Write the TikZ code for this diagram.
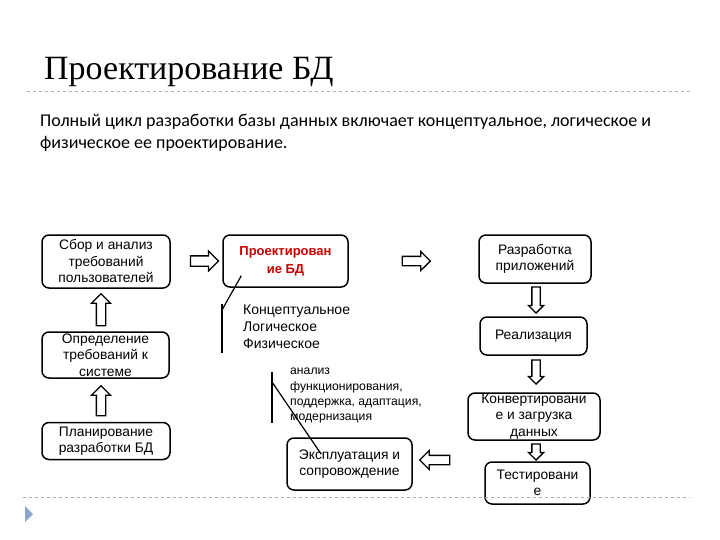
\documentclass[tikz,border=0pt]{standalone}
\usepackage{fontspec}
\setmainfont{Liberation Sans}
\newfontfamily\titlefont{Liberation Serif}
\newfontfamily\bodyfont{Carlito}
\usepackage{tikz}
\usetikzlibrary{shapes.arrows, calc}
\usepackage{xcolor}
\definecolor{darkred}{RGB}{200,0,0}
\definecolor{rulegray}{RGB}{175,175,175}
\definecolor{bullet}{RGB}{140,165,200}

\tikzset{
  stagebox/.style={draw, line width=1.5pt, rounded corners=7pt, inner sep=0pt,
    align=center, font=\fontsize{13.8}{16.5}\selectfont},
  hollowarr/.style={single arrow, draw, line width=1.3pt, inner sep=4pt,
    single arrow head extend=5pt, minimum height=#1},
  thinarr/.style={hollowarr=#1, shape border rotate=270, inner sep=3.5pt,
    single arrow head extend=3.5pt},
}

\begin{document}
\begin{tikzpicture}[x=1pt,y=-1pt]
  \useasboundingbox (0,0) rectangle (720,540);
  % Title and text
  \node[anchor=west,inner sep=0,font=\titlefont\fontsize{34}{38}\selectfont] (title) at (44,72){Проектирование БД};
  \draw[rulegray,dashed,line width=0.7pt](27,91)--(690,91);
  \node[anchor=north west,inner sep=0,align=left,font=\bodyfont\fontsize{18}{22}\selectfont] (intro) at (40,114)
    {Полный цикл разработки базы данных включает концептуальное, логическое и\\физическое ее проектирование.};
  % Left column
  \node[stagebox,minimum width=128,minimum height=53] (collect) at (106,261.5){Сбор и анализ\\требований\\пользователей};
  \node[stagebox,minimum width=127,minimum height=46] (define) at (105.5,355){Определение\\требований к\\системе};
  \node[stagebox,minimum width=128,minimum height=37] (plan) at (106,441){Планирование\\разработки БД};
  \node[hollowarr=32,shape border rotate=90] (up1) at (101,312){};
  \node[hollowarr=30,shape border rotate=90] (up2) at (101,403){};
  % Middle
  \node[stagebox,minimum width=125,minimum height=52,text=darkred,font=\bfseries\fontsize{13}{18}\selectfont] (design) at (285.5,261){Проектирован\\ие БД};
  \node[hollowarr=28,inner sep=4.5pt] (right1) at (202,261){};
  \node[hollowarr=28] (right2) at (414,261){};
  \coordinate (br1) at (222,310);
  \draw[line width=1.2pt] ($(design.south west)+(19,-12)$)--(br1);
  \draw[line width=1.2pt] (222,304)--(222,353);
  \node[anchor=north west,inner sep=0,align=left,font=\fontsize{14}{17}\selectfont] (levels) at (243,305)
    {Концептуальное\\Логическое\\Физическое};
  \node[stagebox,minimum width=125,minimum height=52] (operate) at (349.5,464){Эксплуатация и\\сопровождение};
  \coordinate (br2) at (272,382);
  \draw[line width=1.2pt] (272,372)--(272,423);
  \draw[line width=1.2pt] (br2)--($(operate.north west)+(35,17)$);
  \node[anchor=north west,inner sep=0,align=left,font=\fontsize{12.2}{15.3}\selectfont] (tasks) at (290,368)
    {анализ\\функционирования,\\поддержка, адаптация,\\модернизация};
  % Right column
  \node[stagebox,minimum width=112,minimum height=48] (apps) at (535,259){Разработка\\приложений};
  \node[stagebox,minimum width=107,minimum height=38] (impl) at (533.5,336){Реализация};
  \node[stagebox,minimum width=132,minimum height=47] (convert) at (534,416.5){Конвертировани\\е и загрузка\\данных};
  \node[stagebox,minimum width=105,minimum height=42] (test) at (537.5,483){Тестировани\\е};
  \node[thinarr=26] (down1) at (536,298){};
  \node[thinarr=24] (down2) at (536,370){};
  \node[thinarr=16] (down3) at (536,450){};
  \node[hollowarr=30,shape border rotate=180] (left1) at (437,460){};
  % Bottom rule
  \draw[rulegray,dashed,line width=0.7pt](23,497)--(690,497);
  \fill[bullet](25,506)--(33,514)--(25,522)--cycle;
\end{tikzpicture}
\end{document}
